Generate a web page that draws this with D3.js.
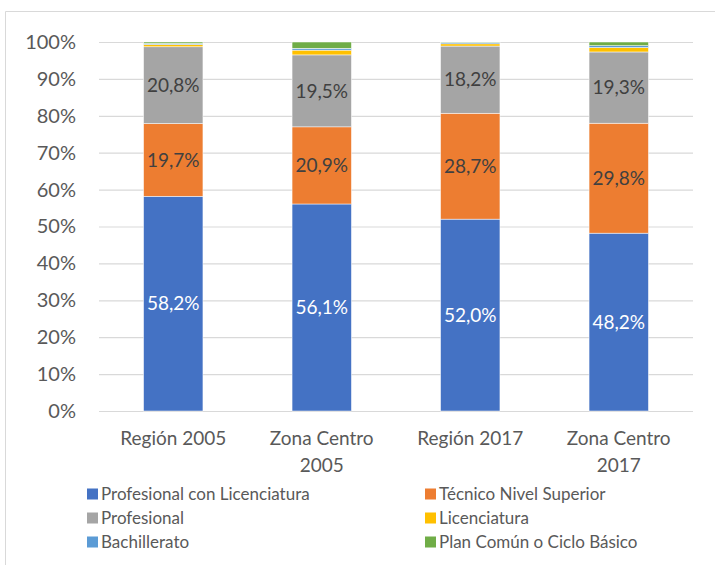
<!DOCTYPE html>
<html>
<head>
<meta charset="utf-8">
<script src="https://cdn.jsdelivr.net/npm/d3@7"></script>
<style>
  body { margin: 0; background: #fff; }
  svg { display: block; font-family: Lato, "Open Sans", sans-serif; }
</style>
</head>
<body>
<script>
// categorias y series
const categories = ['Región 2005', 'Zona Centro 2005', 'Región 2017', 'Zona Centro 2017']
const categoryLines = [['Región 2005'], ['Zona Centro', '2005'], ['Región 2017'], ['Zona Centro', '2017']]
const seriesNames = ['Profesional con Licenciatura', 'Técnico Nivel Superior', 'Profesional',
                     'Licenciatura', 'Bachillerato', 'Plan Común o Ciclo Básico']
const profConLic = [58.2, 56.1, 52.0, 48.2]
const tecnicoSup = [19.7, 20.9, 28.7, 29.8]
const profesional = [20.8, 19.5, 18.2, 19.3]
const licenciatura = [0.6, 1.3, 0.6, 1.2]
const bachillerato = [0.3, 0.5, 0.4, 0.5]
const planComun = [0.4, 1.7, 0.1, 1.0]
const yTicks = [0, 10, 20, 30, 40, 50, 60, 70, 80, 90, 100]

const colors = ['#4472C4', '#ED7D31', '#A5A5A5', '#FFC000', '#5B9BD5', '#70AD47']
const labeled = [true, true, true, false, false, false]

const seriesValues = [profConLic, tecnicoSup, profesional, licenciatura, bachillerato, planComun]
const rows = categories.map((c, i) => {
  const r = { cat: c }
  seriesNames.forEach((s, j) => { r[s] = seriesValues[j][i] })
  return r
})

const W = 715, H = 565
const svg = d3.select('body').append('svg').attr('width', W).attr('height', H)

// marco del grafico
svg.append('path')
   .attr('d', `M5.5,${H} V11.5 H${W}`)
   .attr('fill', 'none')
   .attr('stroke', '#d9d9d9')
   .attr('stroke-width', 1)

const x = d3.scaleBand().domain(categories).range([99, 693]).paddingInner(0.6).paddingOuter(0.3)
const y = d3.scaleLinear().domain([0, 100]).range([411, 42])

// rejilla + etiquetas eje y
const yAxis = svg.append('g')
  .attr('transform', 'translate(99,0)')
  .call(d3.axisLeft(y).tickValues(yTicks).tickFormat(d => d + '%').tickSize(-594).tickPadding(23))
yAxis.select('.domain').remove()
yAxis.selectAll('line').attr('stroke', '#d9d9d9').attr('stroke-width', 1.2)
yAxis.selectAll('text').attr('fill', '#595959').attr('font-size', 20).attr('font-family', 'Lato')

const stacked = d3.stack().keys(seriesNames)(rows)

const groups = svg.selectAll('g.serie')
  .data(stacked)
  .enter()
  .append('g')
  .attr('class', 'serie')
  .attr('fill', (d, i) => colors[i])

groups.selectAll('rect')
  .data(d => d.map(p => Object.assign(p, { key: d.key })))
  .enter()
  .append('rect')
  .attr('x', d => x(d.data.cat))
  .attr('width', x.bandwidth())
  .attr('y', d => y(d[1]))
  .attr('height', d => y(d[0]) - y(d[1]))
  .attr('stroke', '#fff')
  .attr('stroke-width', 0.5)

// etiquetas de datos
stacked.forEach((s, i) => {
  if (!labeled[i]) return
  svg.append('g').selectAll('text')
    .data(s)
    .enter()
    .append('text')
    .attr('x', d => x(d.data.cat) + x.bandwidth() / 2)
    .attr('y', d => y((d[0] + d[1]) / 2))
    .attr('dy', '0.35em')
    .attr('text-anchor', 'middle')
    .attr('font-size', 19)
    .attr('fill', i === 0 ? '#fff' : '#404040')
    .text(d => d3.format('.1f')(d.data[s.key]).replace('.', ',') + '%')
})

// etiquetas de categorias
svg.append('g').selectAll('text')
  .data(categories)
  .enter()
  .append('text')
  .attr('text-anchor', 'middle')
  .attr('font-size', 19)
  .attr('fill', '#595959')
  .attr('transform', d => `translate(${x(d) + x.bandwidth() / 2},445)`)
  .each(function (d, i) {
    d3.select(this).selectAll('tspan')
      .data(categoryLines[i])
      .enter()
      .append('tspan')
      .attr('x', 0)
      .attr('dy', (t, k) => k === 0 ? 0 : 27)
      .text(t => t)
  })

// leyenda
const legend = svg.append('g').selectAll('g')
  .data(seriesNames)
  .enter()
  .append('g')
  .attr('transform', (d, i) => `translate(${i % 2 === 0 ? 87 : 425},${494 + Math.floor(i / 2) * 24})`)
legend.append('rect')
  .attr('x', 0).attr('y', -5.5).attr('width', 11).attr('height', 11)
  .attr('fill', (d, i) => colors[i])
legend.append('text')
  .attr('x', 14)
  .attr('dy', '0.35em')
  .attr('font-size', 17)
  .attr('fill', '#595959')
  .text(d => d)
</script>
</body>
</html>
